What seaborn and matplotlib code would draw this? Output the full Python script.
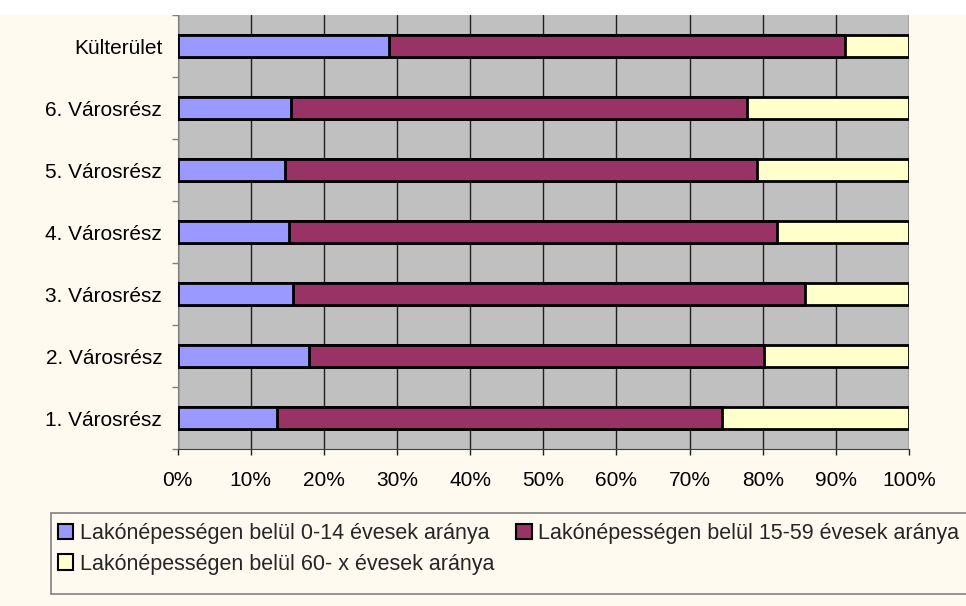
import pandas as pd
import numpy as np
import seaborn as sns
import matplotlib.pyplot as plt
from matplotlib.patches import Patch, Rectangle
from matplotlib.ticker import PercentFormatter, FixedLocator

# data (percent of population per district)
districts = ["Külterület", "6. Városrész", "5. Városrész", "4. Városrész",
             "3. Városrész", "2. Városrész", "1. Városrész"]
age_0_14 = [28.9, 15.5, 14.7, 15.2, 15.8, 18.0, 13.6]
age_15_59 = [62.3, 62.3, 64.5, 66.7, 70.0, 62.2, 60.9]
age_60_x = [8.8, 22.2, 20.8, 18.1, 14.2, 19.8, 25.5]
series_labels = ["Lakónépességen belül 0-14 évesek aránya",
                 "Lakónépességen belül 15-59 évesek aránya",
                 "Lakónépességen belül 60- x évesek aránya"]
colors = ["#9999FF", "#993366", "#FFFFCC"]

df = pd.DataFrame({"district": districts, "a": age_0_14,
                   "b": age_15_59, "c": age_60_x})
# cumulative ends for stacked drawing
df["cum_a"] = df["a"]
df["cum_b"] = df["a"] + df["b"]
df["cum_c"] = df["a"] + df["b"] + df["c"]

sns.set_style("white")
plt.rcParams["font.family"] = ["Liberation Sans", "DejaVu Sans"]

bg = "#FFFAF0"
W, H = 966, 606
fig = plt.figure(figsize=(W / 100, H / 100), dpi=100, facecolor=bg)
# white strip along the top edge
fig.patches.append(Rectangle((0, 1 - 15 / H), 1, 15 / H, transform=fig.transFigure,
                             facecolor="white", edgecolor="none", zorder=0))

ax = fig.add_axes([177.5 / W, 1 - 449 / H, 731.5 / W, 434 / H])
ax.set_facecolor("#C0C0C0")

# draw widest layer first so the shorter ones sit on top
for col, color in zip(["cum_c", "cum_b", "cum_a"], colors[::-1]):
    sns.barplot(data=df, x=col, y="district", order=districts, orient="h",
                color=color, saturation=1, width=0.37, edgecolor="black",
                linewidth=2, ax=ax, zorder=3)

ax.set_xlim(0, 100)
ax.set_ylim(len(districts) - 0.5, -0.5)
ax.xaxis.set_major_locator(FixedLocator(np.arange(0, 101, 10)))
ax.xaxis.set_major_formatter(PercentFormatter(decimals=0))
ax.grid(axis="x", color="#202020", linewidth=1, zorder=0)
ax.grid(axis="y", visible=False)
ax.set_axisbelow(True)
ax.set_xlabel("")
ax.set_ylabel("")

ax.yaxis.set_minor_locator(FixedLocator(np.arange(-0.5, len(districts), 1)))
ax.tick_params(axis="y", which="major", length=0, pad=11, labelsize=15,
               labelcolor="black")
ax.tick_params(axis="y", which="minor", length=4.5, width=1, color="#808080", left=True)
ax.tick_params(axis="x", length=4.5, width=1, color="#202020", bottom=True,
               pad=11, labelsize=15, labelcolor="black")

for side in ["top", "right"]:
    ax.spines[side].set_visible(False)
ax.spines["left"].set_color("#808080")
ax.spines["bottom"].set_color("#404040")

# legend box drawn by hand (uneven padding as in the reference)
fig.patches.append(Rectangle((51 / W, 1 - 594 / H), 930 / W, 81 / H,
                             transform=fig.transFigure, facecolor=bg,
                             edgecolor="#808080", linewidth=1.2, zorder=1))

handles = [Patch(facecolor=c, edgecolor="black", linewidth=1.5) for c in colors]
order = [0, 2, 1]
leg = fig.legend([handles[i] for i in order], [series_labels[i] for i in order],
                 ncol=2, loc="upper left", bbox_to_anchor=(57.5 / W, 1 - 523 / H),
                 fontsize=15.5, frameon=False, handlelength=0.74,
                 handleheight=0.74, handletextpad=0.3, columnspacing=1.0,
                 borderpad=0, labelspacing=0.45, borderaxespad=0)

fig.savefig("out.png", dpi=100, facecolor=bg)
